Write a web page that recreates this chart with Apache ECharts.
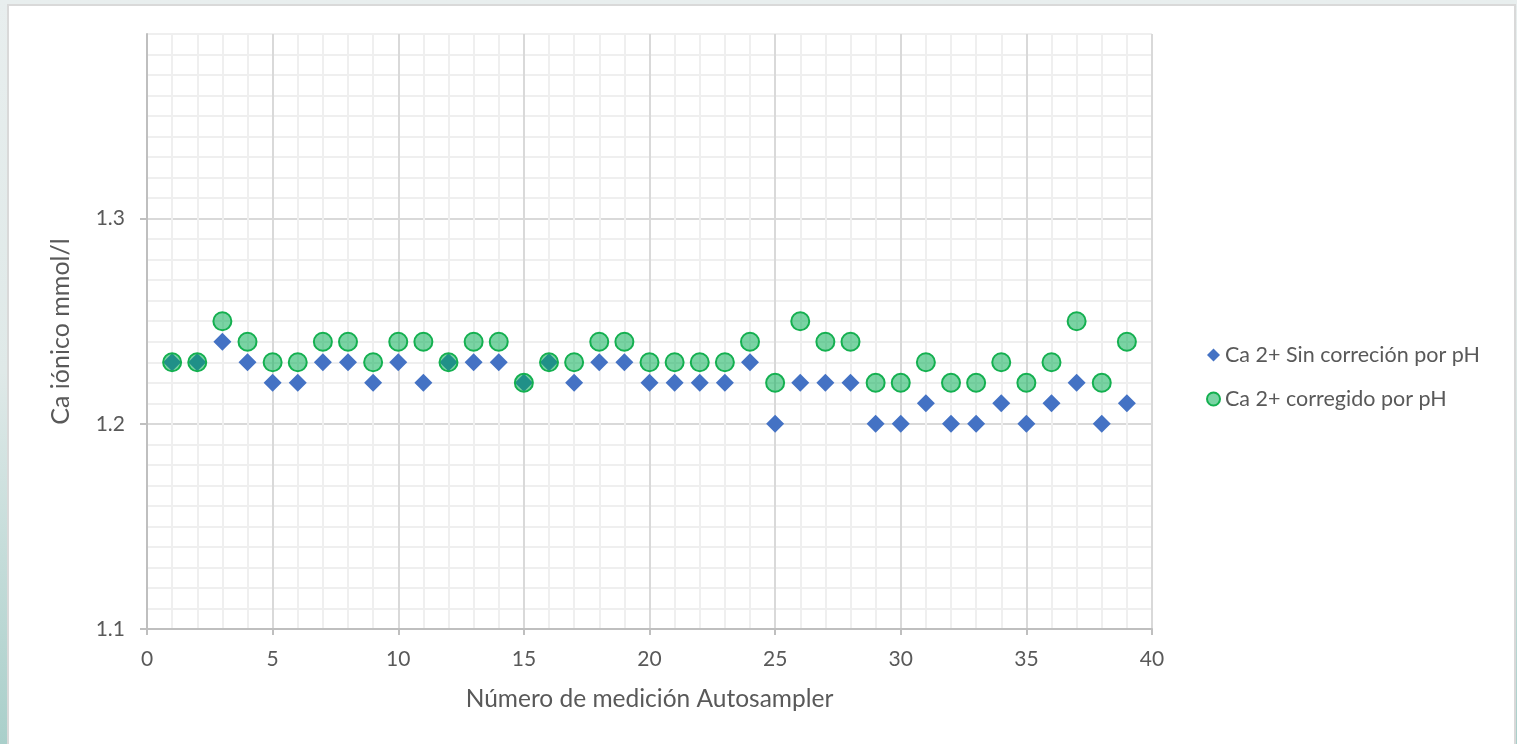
<!DOCTYPE html>
<html>
<head>
<meta charset="utf-8">
<script src="https://cdn.jsdelivr.net/npm/echarts@6/dist/echarts.min.js"></script>
<style>
  html, body { margin: 0; padding: 0; width: 1517px; height: 744px; overflow: hidden;
    background: linear-gradient(180deg, #e8eeee 0%, #dfe9e8 50%, #a9cfca 100%); }
  #panel { position: absolute; left: 7px; top: 4px; width: 1505px; height: 744px;
    background: #fff; border: 2px solid #d9d9d9; border-bottom: none; }
  #chart { position: absolute; left: 0; top: 0; width: 1517px; height: 744px; }
</style>
</head>
<body>
<div id="panel"></div>
<div id="chart"></div>
<script>
// Measurement number (x)
const measurements = [1,2,3,4,5,6,7,8,9,10,11,12,13,14,15,16,17,18,19,20,21,22,23,24,25,26,27,28,29,30,31,32,33,34,35,36,37,38,39];
// Ca 2+ without pH correction
const sinCorreccion = [1.23,1.23,1.24,1.23,1.22,1.22,1.23,1.23,1.22,1.23,1.22,1.23,1.23,1.23,1.22,1.23,1.22,1.23,1.23,1.22,1.22,1.22,1.22,1.23,1.20,1.22,1.22,1.22,1.20,1.20,1.21,1.20,1.20,1.21,1.20,1.21,1.22,1.20,1.21];
// Ca 2+ corrected by pH
const corregido = [1.23,1.23,1.25,1.24,1.23,1.23,1.24,1.24,1.23,1.24,1.24,1.23,1.24,1.24,1.22,1.23,1.23,1.24,1.24,1.23,1.23,1.23,1.23,1.24,1.22,1.25,1.24,1.24,1.22,1.22,1.23,1.22,1.22,1.23,1.22,1.23,1.25,1.22,1.24];
const seriesNames = ['Ca 2+ Sin correción por pH', 'Ca 2+ corregido por pH'];
const xTitle = 'Número de medición Autosampler';
const yTitle = 'Ca iónico mmol/l';
const yMajorTicks = [1.1, 1.2, 1.3];

const FONT = 'Lato';
const TXT = '#595959';
const chart = echarts.init(document.getElementById('chart'), null, { renderer: 'canvas' });

const yGridColors = ['#d9d9d9'].concat(Array(9).fill('#efefef'));

chart.setOption({
  backgroundColor: 'transparent',
  animation: false,
  textStyle: { fontFamily: FONT },
  grid: { left: 147, right: 365, top: 34, bottom: 115, containLabel: false },
  legend: {
    orient: 'vertical', left: 1201, top: 339, itemGap: 22,
    itemWidth: 13, itemHeight: 13, data: seriesNames,
    textStyle: { fontFamily: FONT, fontSize: 21.5, color: TXT }
  },
  xAxis: {
    type: 'value', min: 0, max: 40, interval: 5,
    name: xTitle, nameLocation: 'middle', nameGap: 58,
    nameTextStyle: { fontFamily: FONT, fontSize: 24.5, color: TXT },
    axisLine: { show: true, lineStyle: { color: '#bfbfbf', width: 2 } },
    axisTick: { show: true, length: 6, lineStyle: { color: '#bfbfbf', width: 2 } },
    axisLabel: { margin: 20, fontFamily: FONT, fontSize: 21, color: TXT },
    splitLine: { show: true, lineStyle: { color: '#d9d9d9', width: 2 } },
    minorTick: { show: false, splitNumber: 5 },
    minorSplitLine: { show: true, lineStyle: { color: '#efefef', width: 2 } }
  },
  yAxis: [
    {
      type: 'value', min: 1.1, max: 1.39, interval: 0.01,
      axisLine: { show: true, lineStyle: { color: '#bfbfbf', width: 2 } },
      axisTick: { show: false },
      axisLabel: { show: false },
      splitLine: { show: true, lineStyle: { color: yGridColors, width: 2 } }
    },
    {
      type: 'value', min: 1.1, max: 1.39, position: 'left', offset: 0,
      name: yTitle, nameLocation: 'middle', nameGap: 74,
      nameTextStyle: { fontFamily: FONT, fontSize: 25, color: TXT },
      axisLine: { show: false },
      axisTick: { show: true, length: 7, customValues: yMajorTicks, lineStyle: { color: '#bfbfbf', width: 2 } },
      axisLabel: {
        margin: 22, fontFamily: FONT, fontSize: 21, color: TXT,
        customValues: yMajorTicks,
        formatter: function (v) { return Number(v).toFixed(1); }
      },
      splitLine: { show: false }
    }
  ],
  series: [
    {
      name: seriesNames[0], type: 'scatter', symbol: 'diamond', symbolSize: 18,
      itemStyle: { color: '#4472c4', opacity: 1 },
      data: measurements.map((x, i) => [x, sinCorreccion[i]]),
      z: 2
    },
    {
      name: seriesNames[1], type: 'scatter', symbol: 'circle', symbolSize: 18,
      itemStyle: { color: 'rgba(0,172,80,0.52)', borderColor: '#14b050', borderWidth: 2, opacity: 1 },
      data: measurements.map((x, i) => [x, corregido[i]]),
      z: 3
    }
  ]
});
</script>
</body>
</html>
